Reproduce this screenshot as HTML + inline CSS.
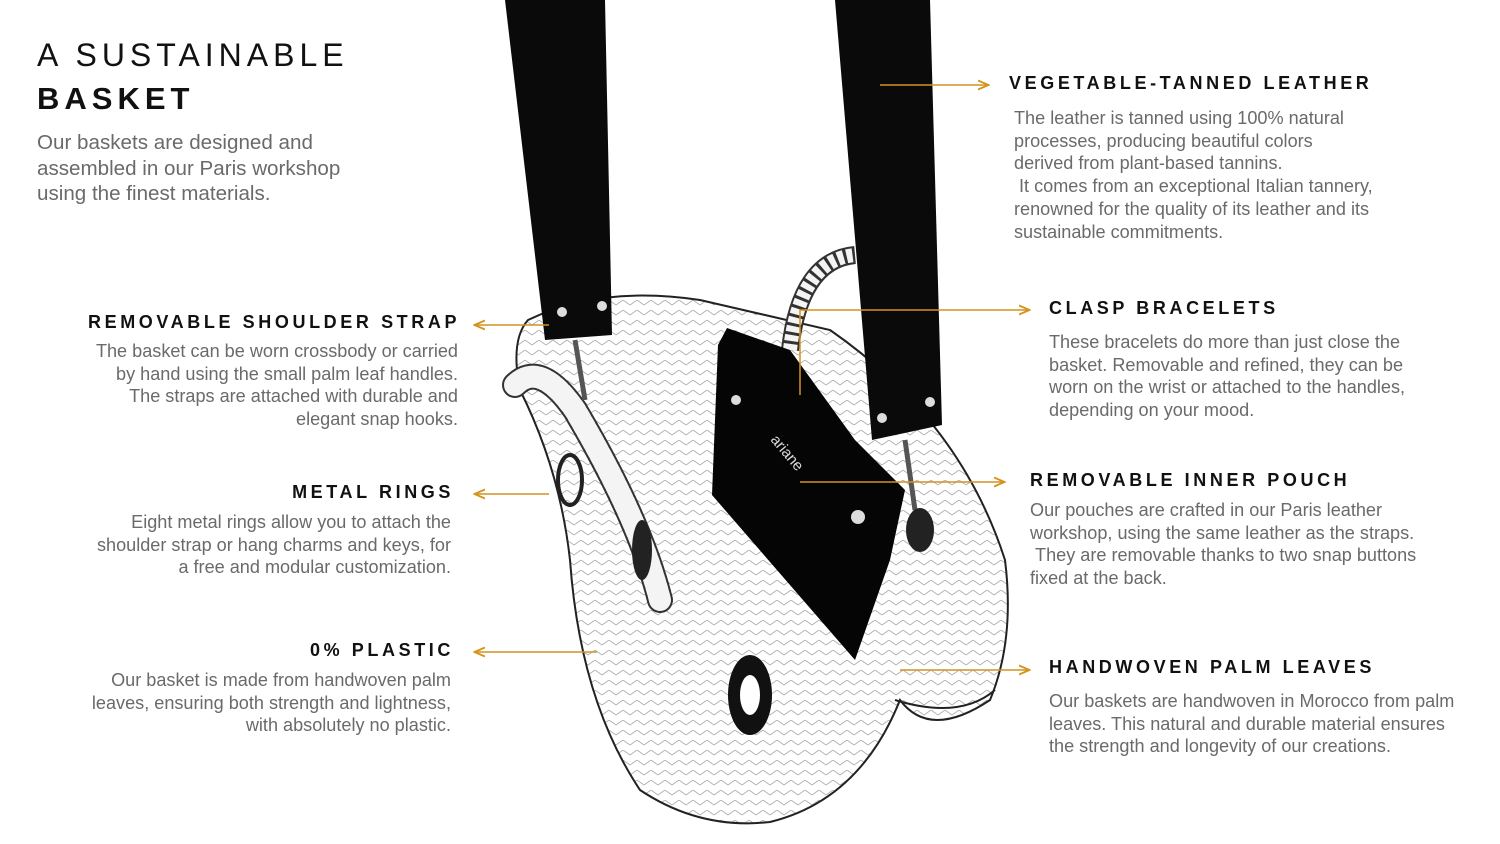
<!DOCTYPE html>
<html><head><meta charset="utf-8"><style>
body{margin:0;width:1500px;height:844px;background:#fff;position:relative;overflow:hidden;font-family:"Liberation Sans",sans-serif;}
.t{position:absolute;color:#6a6a6a;font-size:18.1px;line-height:22.7px;white-space:nowrap;}
.h{position:absolute;color:#111;font-weight:bold;font-size:18px;letter-spacing:3.6px;white-space:nowrap;}
.r{text-align:right;}
</style></head><body>
<svg style="position:absolute;left:0;top:0" width="1500" height="844">
<defs>
<pattern id="w" width="14" height="10" patternUnits="userSpaceOnUse">
<path d="M0 5 L7 0 L14 5" fill="none" stroke="#aaa" stroke-width="0.8"/>
</pattern>
<marker id="a" markerWidth="8" markerHeight="8" refX="6" refY="4" orient="auto"><path d="M0 1 L7 4 L0 7" fill="none" stroke="#d4931e" stroke-width="1.3"/></marker>
</defs>
<path d="M528 320 Q600 285 700 300 L830 330 Q960 420 1005 560 Q1015 640 990 700 Q930 740 900 700 Q860 800 770 822 Q700 830 640 790 Q580 700 570 560 Q560 470 520 390 Q510 340 528 320Z" fill="url(#w)" stroke="#222" stroke-width="2"/>
<path d="M895 700 Q960 720 995 690" fill="none" stroke="#222" stroke-width="2"/>
<path d="M515 385 Q540 360 575 410 Q640 520 660 600" fill="none" stroke="#333" stroke-width="26" stroke-linecap="round"/>
<path d="M515 385 Q540 360 575 410 Q640 520 660 600" fill="none" stroke="#f4f4f4" stroke-width="22" stroke-linecap="round" stroke-dasharray="6 3"/>
<path d="M790 350 Q800 260 855 255" fill="none" stroke="#333" stroke-width="18"/>
<path d="M790 350 Q800 260 855 255" fill="none" stroke="#f4f4f4" stroke-width="14" stroke-dasharray="6 3"/>
<ellipse cx="570" cy="480" rx="12" ry="25" fill="none" stroke="#222" stroke-width="4"/>
<ellipse cx="642" cy="550" rx="10" ry="30" fill="#222"/>
<ellipse cx="750" cy="695" rx="22" ry="40" fill="#111"/>
<ellipse cx="750" cy="695" rx="10" ry="20" fill="#fff"/>
<path d="M727 328 L790 350 L855 440 L905 490 L890 560 L855 660 L712 495 L718 345Z" fill="#050505"/>
<text x="770" y="440" fill="#ddd" font-size="15" transform="rotate(50 770 440)" font-family="Liberation Sans">ariane</text>
<circle cx="736" cy="400" r="5" fill="#ddd"/><circle cx="858" cy="517" r="7" fill="#ddd"/>
<path d="M505 0 L605 0 L612 335 L545 340 Z" fill="#0a0a0a"/>
<circle cx="562" cy="312" r="5" fill="#ddd"/><circle cx="602" cy="306" r="5" fill="#ddd"/>
<path d="M575 340 L585 400" stroke="#555" stroke-width="5"/>
<path d="M835 0 L930 0 L942 425 L872 440 Z" fill="#0a0a0a"/>
<circle cx="882" cy="418" r="5" fill="#ddd"/><circle cx="930" cy="402" r="5" fill="#ddd"/>
<path d="M905 440 L915 510" stroke="#555" stroke-width="5"/>
<ellipse cx="920" cy="530" rx="14" ry="22" fill="#222"/>
<g stroke="#d4931e" stroke-width="1.5" fill="none">
<path d="M880 85 H987" marker-end="url(#a)"/>
<path d="M549 325 H476" marker-end="url(#a)"/>
<path d="M549 494 H476" marker-end="url(#a)"/>
<path d="M597 652 H476" marker-end="url(#a)"/>
<path d="M800 395 V310 H1028" marker-end="url(#a)"/>
<path d="M800 482 H1003" marker-end="url(#a)"/>
<path d="M900 670 H1028" marker-end="url(#a)"/>
</g>
</svg>
<div style="position:absolute;left:37px;top:37px;font-size:32px;letter-spacing:5px;color:#111">A SUSTAINABLE</div>
<div style="position:absolute;left:37px;top:81px;font-size:31px;letter-spacing:5px;color:#111;font-weight:bold">BASKET</div>
<div class="t" style="left:37px;top:130px;font-size:20.6px;line-height:25.5px">Our baskets are designed and<br>assembled in our Paris workshop<br>using the finest materials.</div>

<div class="h" style="left:1009px;top:73px">VEGETABLE-TANNED LEATHER</div>
<div class="t" style="left:1014px;top:107px">The leather is tanned using 100% natural<br>processes, producing beautiful colors<br>derived from plant-based tannins.<br>&nbsp;It comes from an exceptional Italian tannery,<br>renowned for the quality of its leather and its<br>sustainable commitments.</div>

<div class="h" style="left:88px;top:312px">REMOVABLE SHOULDER STRAP</div>
<div class="t r" style="right:1042px;top:340px">The basket can be worn crossbody or carried<br>by hand using the small palm leaf handles.<br>The straps are attached with durable and<br>elegant snap hooks.</div>

<div class="h" style="left:1049px;top:298px">CLASP BRACELETS</div>
<div class="t" style="left:1049px;top:331px">These bracelets do more than just close the<br>basket. Removable and refined, they can be<br>worn on the wrist or attached to the handles,<br>depending on your mood.</div>

<div class="h" style="right:1046px;top:482px">METAL RINGS</div>
<div class="t r" style="right:1049px;top:511px">Eight metal rings allow you to attach the<br>shoulder strap or hang charms and keys, for<br>a free and modular customization.</div>

<div class="h" style="left:1030px;top:470px">REMOVABLE INNER POUCH</div>
<div class="t" style="left:1030px;top:499px">Our pouches are crafted in our Paris leather<br>workshop, using the same leather as the straps.<br>&nbsp;They are removable thanks to two snap buttons<br>fixed at the back.</div>

<div class="h" style="right:1046px;top:640px">0% PLASTIC</div>
<div class="t r" style="right:1049px;top:669px">Our basket is made from handwoven palm<br>leaves, ensuring both strength and lightness,<br>with absolutely no plastic.</div>

<div class="h" style="left:1049px;top:657px">HANDWOVEN PALM LEAVES</div>
<div class="t" style="left:1049px;top:690px">Our baskets are handwoven in Morocco from palm<br>leaves. This natural and durable material ensures<br>the strength and longevity of our creations.</div>
</body></html>
